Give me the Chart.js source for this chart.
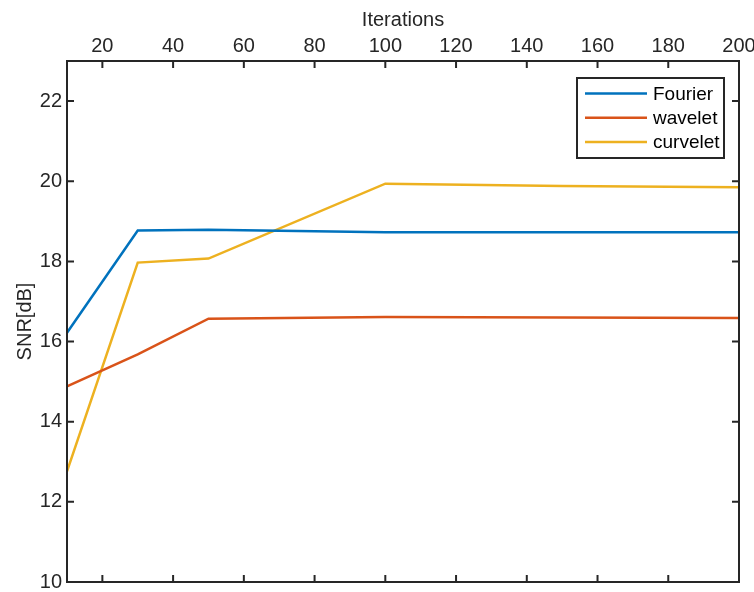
<!DOCTYPE html>
<html lang="en">
<head>
  <meta charset="UTF-8">
  <title>SNR vs Iterations</title>
  <script src="https://cdn.jsdelivr.net/npm/chart.js"></script>
  <style>
    html, body { margin: 0; padding: 0; background: #fff; }
    #wrap { width: 754px; height: 592px; }
  </style>
</head>
<body>
  <div id="wrap"><canvas id="snrChart"></canvas></div>

  <script>
    // values
    const iterations = [10, 30, 50, 100, 150, 200];
    const fourier  = [16.22, 18.77, 18.79, 18.73, 18.73, 18.73];
    const wavelet  = [14.88, 15.68, 16.57, 16.61, 16.60, 16.59];
    const curvelet = [12.76, 17.97, 18.07, 19.94, 19.88, 19.85];

    const xTicks = [20, 40, 60, 80, 100, 120, 140, 160, 180, 200];
    const yTicks = [10, 12, 14, 16, 18, 20, 22];

    const seriesNames = ['Fourier', 'wavelet', 'curvelet'];
    const seriesColors = ['#0072BD', '#D95319', '#EDB120'];

    const axisColor = '#262626';
    const fontFamily = '"Liberation Sans", Arial, Helvetica, sans-serif';
    const fontSize = 20;

    const toPoints = ys => iterations.map((x, i) => ({ x: x, y: ys[i] }));

    // box around the axes with inward ticks on all four sides (matlab style)
    const boxPlugin = {
      id: 'box',
      afterDraw(chart) {
        const { ctx, chartArea: a, scales } = chart;
        const len = 7;
        ctx.save();
        ctx.strokeStyle = axisColor;
        ctx.lineWidth = 2;
        ctx.strokeRect(a.left, a.top, a.right - a.left, a.bottom - a.top);
        ctx.beginPath();
        xTicks.forEach(v => {
          const px = scales.x.getPixelForValue(v);
          ctx.moveTo(px, a.top); ctx.lineTo(px, a.top + len);
          ctx.moveTo(px, a.bottom); ctx.lineTo(px, a.bottom - len);
        });
        yTicks.forEach(v => {
          const py = scales.y.getPixelForValue(v);
          ctx.moveTo(a.left, py); ctx.lineTo(a.left + len, py);
          ctx.moveTo(a.right, py); ctx.lineTo(a.right - len, py);
        });
        ctx.stroke();
        ctx.restore();
      }
    };

    // legend box in the upper right corner of the axes
    const legendPlugin = {
      id: 'boxLegend',
      afterDraw(chart) {
        const { ctx, chartArea: a } = chart;
        const w = 147, h = 80;
        const x0 = a.right - 15 - w;
        const y0 = a.top + 17;
        ctx.save();
        ctx.fillStyle = '#fff';
        ctx.fillRect(x0, y0, w, h);
        ctx.strokeStyle = axisColor;
        ctx.lineWidth = 2;
        ctx.strokeRect(x0, y0, w, h);
        ctx.font = '19px ' + fontFamily;
        ctx.textBaseline = 'middle';
        chart.data.datasets.forEach((ds, i) => {
          const y = y0 + 15.5 + i * 24.2;
          ctx.strokeStyle = ds.borderColor;
          ctx.lineWidth = 2.5;
          ctx.beginPath();
          ctx.moveTo(x0 + 8, y);
          ctx.lineTo(x0 + 70, y);
          ctx.stroke();
          ctx.fillStyle = '#000';
          ctx.fillText(ds.label, x0 + 76, y + 1);
        });
        ctx.restore();
      }
    };

    new Chart(document.getElementById('snrChart'), {
      type: 'line',
      data: {
        datasets: [
          { label: seriesNames[0], data: toPoints(fourier),  borderColor: seriesColors[0] },
          { label: seriesNames[1], data: toPoints(wavelet),  borderColor: seriesColors[1] },
          { label: seriesNames[2], data: toPoints(curvelet), borderColor: seriesColors[2] }
        ]
      },
      options: {
        responsive: true,
        maintainAspectRatio: false,
        animation: false,
        layout: { padding: { top: 0, right: 15, bottom: 10, left: 0 } },
        elements: {
          line: { borderWidth: 2.5, tension: 0, fill: false },
          point: { radius: 0, hoverRadius: 0 }
        },
        plugins: {
          legend: { display: false },
          tooltip: { enabled: false }
        },
        scales: {
          x: {
            type: 'linear',
            position: 'top',
            min: 10,
            max: 200,
            afterBuildTicks: s => { s.ticks = xTicks.map(v => ({ value: v })); },
            afterFit: s => { s.height = 61; s.paddingLeft = 0; s.paddingRight = 0; },
            grid: { display: false, drawTicks: false },
            border: { display: false },
            ticks: { color: axisColor, padding: 3, maxRotation: 0, autoSkip: false, font: { family: fontFamily, size: fontSize } },
            title: { display: true, text: 'Iterations', color: axisColor, padding: { top: 8, bottom: 0 }, font: { family: fontFamily, size: fontSize } }
          },
          y: {
            min: 10,
            max: 23,
            afterBuildTicks: s => { s.ticks = yTicks.map(v => ({ value: v })); },
            afterFit: s => { s.width = 67; s.paddingTop = 0; s.paddingBottom = 0; },
            grid: { display: false, drawTicks: false },
            border: { display: false },
            ticks: { color: axisColor, padding: 5, autoSkip: false, font: { family: fontFamily, size: fontSize } },
            title: { display: true, text: 'SNR[dB]', color: axisColor, padding: { top: 13, bottom: 0 }, font: { family: fontFamily, size: fontSize } }
          }
        }
      },
      plugins: [boxPlugin, legendPlugin]
    });
  </script>
</body>
</html>
